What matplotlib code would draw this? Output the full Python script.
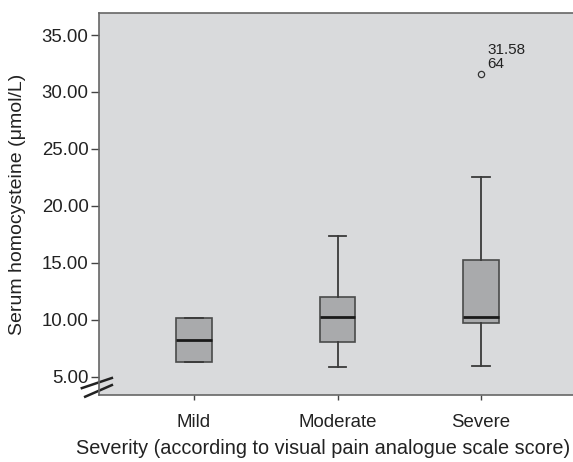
import matplotlib
matplotlib.use("Agg")
import matplotlib.pyplot as plt

plt.rcParams['font.family'] = ['Liberation Sans', 'DejaVu Sans']

# severity groups and box statistics (serum homocysteine, umol/L)
groups = ['Mild', 'Moderate', 'Severe']
q1 = [6.35, 8.05, 9.70]
median = [8.25, 10.25, 10.30]
q3 = [10.15, 12.00, 15.25]
whisk_lo = [6.35, 5.85, 6.00]
whisk_hi = [10.15, 17.35, 22.55]
outliers = [[], [], [31.58]]
outlier_ids = [[], [], ['64']]

yticks = [5, 10, 15, 20, 25, 30, 35]

stats = []
for i in range(len(groups)):
    stats.append({'label': groups[i], 'q1': q1[i], 'med': median[i], 'q3': q3[i],
                  'whislo': whisk_lo[i], 'whishi': whisk_hi[i], 'fliers': outliers[i]})

fig = plt.figure(figsize=(5.73, 4.62), dpi=100)
ax = fig.add_axes([99/573, 1 - 395/462, 477/573, 382/462])
ax.set_facecolor('#d9dadc')

ax.bxp(stats, positions=[1, 2, 3], widths=0.25, patch_artist=True,
       boxprops=dict(facecolor='#a9aaac', edgecolor='#4a4a4a', linewidth=1.2),
       medianprops=dict(color='#1a1a1a', linewidth=2.0),
       whiskerprops=dict(color='#3a3a3a', linewidth=1.3),
       capprops=dict(color='#3a3a3a', linewidth=1.3),
       flierprops=dict(marker='o', markersize=4.5, markerfacecolor='none',
                       markeredgecolor='#333333', markeredgewidth=0.9))

for i in range(len(groups)):
    for v, lab in zip(outliers[i], outlier_ids[i]):
        ax.annotate('%.2f\n%s' % (v, lab), xy=(i + 1, v), xytext=(4.5, 2.5),
                    textcoords='offset points', ha='left', va='bottom',
                    fontsize=11, linespacing=1.0, color='#222222')

ax.set_xlim(0.338, 3.662)
ax.set_ylim(3.42, 36.93)
ax.set_yticks(yticks)
ax.set_yticklabels(['%.2f' % t for t in yticks])
ax.set_xticks([1, 2, 3])
ax.set_xticklabels(groups)

for s in ax.spines.values():
    s.set_color('#666666')
    s.set_linewidth(1.2)

ax.tick_params(axis='y', direction='out', length=6, width=1, color='#444444',
               pad=1.5, labelsize=13.4, labelcolor='#222222')
ax.tick_params(axis='x', direction='out', length=3.5, width=1, color='#444444',
               pad=10, labelsize=13.4, labelcolor='#222222')

ax.set_ylabel('Serum homocysteine (\u03bcmol/L)', fontsize=14, color='#222222')
ax.yaxis.set_label_coords(-0.153, 0.5)
ax.set_xlabel('Severity (according to visual pain analogue scale score)',
              fontsize=14.3, color='#222222')
ax.xaxis.set_label_coords(0.47, -0.115)

# axis break marks
ax.plot([-0.036, 0.027], [0.018, 0.0445], transform=ax.transAxes,
        color='#222222', linewidth=1.8, clip_on=False)
ax.plot([-0.029, 0.027], [-0.0045, 0.026], transform=ax.transAxes,
        color='#222222', linewidth=1.8, clip_on=False)

fig.savefig('out.png', dpi=100, facecolor='white')
